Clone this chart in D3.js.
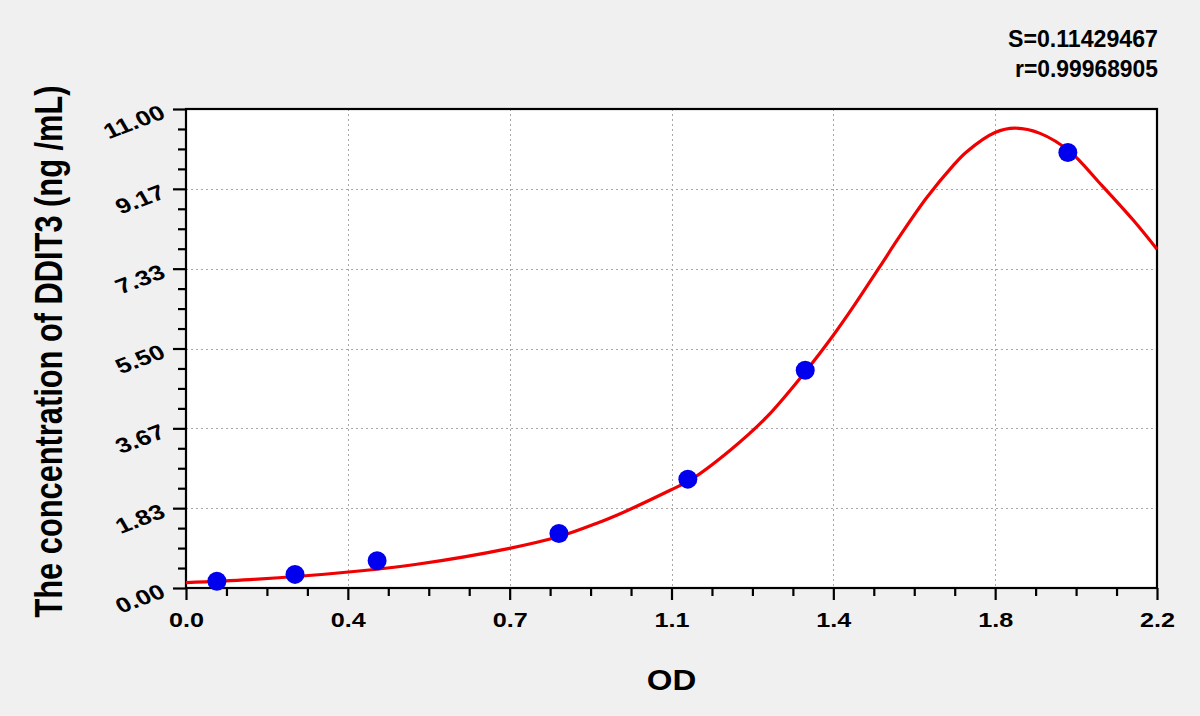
<!DOCTYPE html>
<html>
<head>
<meta charset="utf-8">
<script src="https://cdn.jsdelivr.net/npm/d3@7"></script>
<style>
  html, body { margin: 0; padding: 0; background: #f0f0f0; }
  svg { display: block; font-family: "Liberation Sans", Arial, sans-serif; }
</style>
</head>
<body>
<svg id="chart" width="1200" height="716"></svg>
<script>
// ---- data ----
const xTickLabels = ["0.0", "0.4", "0.7", "1.1", "1.4", "1.8", "2.2"];
const yTickLabels = ["0.00", "1.83", "3.67", "5.50", "7.33", "9.17", "11.00"];
const pointOD   = [0.070, 0.247, 0.433, 0.845, 1.137, 1.403, 1.998];
const pointConc = [0.156, 0.3125, 0.625, 1.25, 2.5, 5.0, 10.0];
const curveOD   = [0.000, 0.145, 0.362, 0.523, 0.730, 0.847, 0.938, 0.976, 1.097, 1.142, 1.233, 1.316, 1.406, 1.465, 1.512, 1.572, 1.618, 1.678, 1.738, 1.769, 1.833, 1.878, 1.935, 2.003, 2.071, 2.146, 2.200];
const curveConc = [0.124, 0.193, 0.361, 0.545, 0.905, 1.188, 1.517, 1.670, 2.245, 2.475, 3.164, 3.929, 5.000, 5.780, 6.460, 7.380, 8.090, 8.960, 9.700, 10.02, 10.46, 10.56, 10.44, 10.02, 9.29, 8.45, 7.78];
const statsLines = ["S=0.11429467", "r=0.99968905"];
const xTitle = "OD";
const yTitle = "The concentration of DDIT3 (ng /mL)";

// ---- layout ----
const svg = d3.select("#chart");
const L = 186, R = 1157, T = 109, B = 588;
const xMax = 2.2, yMax = 11;
const x = d3.scaleLinear().domain([0, xMax]).range([L, R]);
const y = d3.scaleLinear().domain([0, yMax]).range([B, T]);

const xMajor = xTickLabels.map((d, i) => i * xMax / (xTickLabels.length - 1));
const yMajor = yTickLabels.map((d, i) => i * yMax / (yTickLabels.length - 1));
const xMinor = [], yMinor = [];
for (let i = 0; i < xMajor.length - 1; i++) for (let k = 1; k < 4; k++) xMinor.push(xMajor[i] + k * (xMajor[i + 1] - xMajor[i]) / 4);
for (let i = 0; i < yMajor.length - 1; i++) for (let k = 1; k < 4; k++) yMinor.push(yMajor[i] + k * (yMajor[i + 1] - yMajor[i]) / 4);

// plot background
svg.append("rect").attr("x", L).attr("y", T).attr("width", R - L).attr("height", B - T).attr("fill", "#ffffff");

// grid
const grid = svg.append("g").attr("stroke", "#a8a8a8").attr("stroke-width", 1).attr("stroke-dasharray", "2,3");
grid.selectAll(".gx").data(xMajor.slice(1, -1)).join("line")
  .attr("x1", d => Math.round(x(d)) + 0.5).attr("x2", d => Math.round(x(d)) + 0.5).attr("y1", T).attr("y2", B);
grid.selectAll(".gy").data(yMajor.slice(1, -1)).join("line")
  .attr("y1", d => Math.round(y(d)) + 0.5).attr("y2", d => Math.round(y(d)) + 0.5).attr("x1", L).attr("x2", R);

// axes
const xAxis = svg.append("g").attr("transform", `translate(0,${B})`)
  .call(d3.axisBottom(x).tickValues(xMajor).tickSize(12).tickFormat((d, i) => xTickLabels[i]));
const xAxisMinor = svg.append("g").attr("transform", `translate(0,${B})`)
  .call(d3.axisBottom(x).tickValues(xMinor).tickSize(8).tickFormat(""));
const yAxis = svg.append("g").attr("transform", `translate(${L},0)`)
  .call(d3.axisLeft(y).tickValues(yMajor).tickSize(13).tickFormat((d, i) => yTickLabels[i]));
const yAxisMinor = svg.append("g").attr("transform", `translate(${L},0)`)
  .call(d3.axisLeft(y).tickValues(yMinor).tickSize(8).tickFormat(""));

[xAxis, xAxisMinor, yAxis, yAxisMinor].forEach(g => {
  g.select(".domain").remove();
  g.selectAll(".tick line").attr("stroke", "#000").attr("stroke-width", 2.2);
});
xAxis.selectAll(".tick text")
  .attr("fill", "#000").attr("font-size", 21).attr("font-weight", "bold")
  .attr("font-family", "Liberation Sans, Arial, sans-serif")
  .attr("y", 0).attr("dy", 0)
  .attr("transform", "translate(0,39) scale(1.2,1)");
yAxis.selectAll(".tick text")
  .attr("fill", "#000").attr("font-size", 21).attr("font-weight", "bold")
  .attr("font-family", "Liberation Sans, Arial, sans-serif")
  .attr("x", 0).attr("dy", 0)
  .attr("text-anchor", "end")
  .attr("transform", "translate(-19,8) scale(1.25,1) rotate(-25)");

// frame
svg.append("rect").attr("x", L).attr("y", T).attr("width", R - L).attr("height", B - T)
  .attr("fill", "none").attr("stroke", "#000").attr("stroke-width", 2.2);

// curve
const pts = curveOD.map((d, i) => [d, curveConc[i]]);
svg.append("path").datum(pts)
  .attr("fill", "none").attr("stroke", "#f00000").attr("stroke-width", 3.2)
  .attr("d", d3.line().x(d => x(d[0])).y(d => y(d[1])).curve(d3.curveCatmullRom.alpha(0.5)));

// points
svg.append("g").selectAll("circle").data(pointOD).join("circle")
  .attr("cx", d => x(d)).attr("cy", (d, i) => y(pointConc[i])).attr("r", 9.5)
  .attr("fill", "#0000ee");

// titles
svg.append("text").attr("transform", `translate(${(L + R) / 2},690) scale(1.1,1)`).attr("text-anchor", "middle")
  .attr("font-size", 30).attr("font-weight", "bold").attr("fill", "#000").text(xTitle);
svg.append("text").attr("transform", `translate(62,${(T + B) / 2 + 3}) scale(1.25,1) rotate(-90)`).attr("text-anchor", "middle")
  .attr("font-size", 30.8).attr("font-weight", "bold").attr("fill", "#000").text(yTitle);

// stats
const statLen = [150, 143];
svg.selectAll(".stat").data(statsLines).join("text")
  .attr("x", 1158).attr("y", (d, i) => 47 + i * 30).attr("text-anchor", "end")
  .attr("font-size", 23).attr("font-weight", "bold").attr("fill", "#000")
  .attr("textLength", (d, i) => statLen[i]).attr("lengthAdjust", "spacingAndGlyphs")
  .text(d => d);
</script>
</body>
</html>
